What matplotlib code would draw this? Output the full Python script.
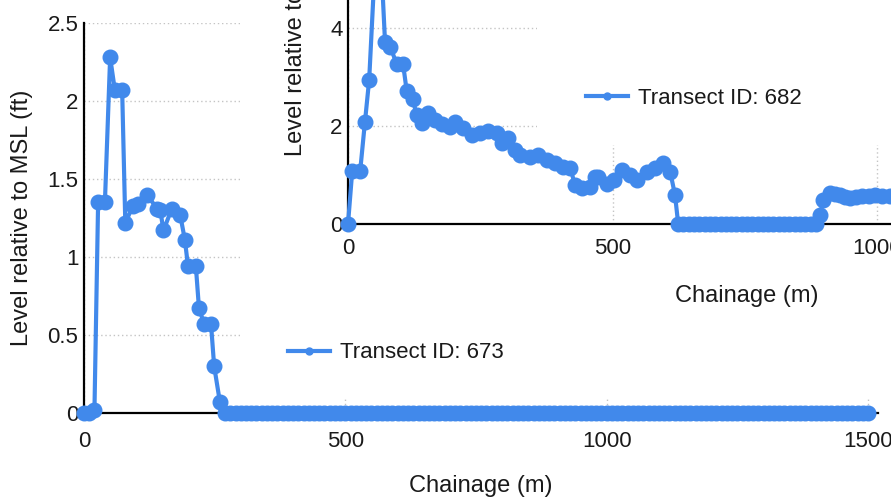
import numpy as np
import matplotlib
matplotlib.use("Agg")
import matplotlib.pyplot as plt
from matplotlib.patches import Rectangle
from matplotlib.lines import Line2D

plt.rcParams['font.family'] = ['Liberation Sans', 'DejaVu Sans']

# Transect 673 (main chart)
t673_chainage = [0, 10, 20, 27, 40, 50, 59, 73, 79, 94, 104, 120, 140, 146, 152,
                 168, 184, 193, 199, 214, 220, 230, 243, 249, 260, 270]
t673_level = [0, 0, 0.02, 1.35, 1.35, 2.28, 2.07, 2.07, 1.22, 1.33, 1.34, 1.40, 1.31, 1.30, 1.17,
              1.31, 1.27, 1.11, 0.94, 0.94, 0.67, 0.57, 0.57, 0.30, 0.07, 0.0]
# flat section at MSL to the end of the transect
t673_flat_chainage = np.arange(280, 1507, 10)
t673_flat_level = np.zeros(len(t673_flat_chainage))

# Transect 682 (overlapping window)
t682_chainage = [0, 8, 23, 32, 40, 57, 70, 80, 92, 104, 111, 122, 130, 140, 151, 164, 177,
                 193, 202, 217, 234, 249, 265, 281, 291, 303, 316, 325, 344, 359, 376, 391,
                 406, 420, 429, 442, 457, 467, 473, 490, 503, 518, 533, 546, 565, 580, 595,
                 609, 618, 624]
t682_level = [0, 1.08, 1.08, 2.08, 2.94, 6.6, 3.71, 3.61, 3.27, 3.27, 2.71, 2.55, 2.22, 2.06,
              2.27, 2.12, 2.04, 1.98, 2.08, 1.96, 1.82, 1.86, 1.90, 1.86, 1.65, 1.76, 1.51,
              1.41, 1.37, 1.41, 1.31, 1.24, 1.16, 1.14, 0.80, 0.73, 0.76, 0.96, 0.96, 0.82,
              0.90, 1.10, 1.00, 0.90, 1.06, 1.14, 1.24, 1.06, 0.59, 0]
t682_flat_chainage = np.arange(634, 886, 10)
t682_flat_level = np.zeros(len(t682_flat_chainage))
t682_tail_chainage = [892, 898, 911, 920, 930, 940, 949, 960, 972, 984, 996, 1010, 1025, 1040, 1055]
t682_tail_level = [0.18, 0.49, 0.63, 0.61, 0.59, 0.55, 0.53, 0.55, 0.57, 0.58, 0.59, 0.58, 0.57, 0.57, 0.57]

BLUE = '#4189EB'
TXT = '#1a1a1a'
GRID = '#c4c4c4'
W, H = 891, 499

fig = plt.figure(figsize=(W / 100, H / 100), dpi=100)
fig.patch.set_facecolor('white')


def px_box(left, top, right, bottom):
    return [left / W, (H - bottom) / H, (right - left) / W, (bottom - top) / H]


def style_axes(ax, ymax, yticks, xpad):
    ax.set_facecolor('none')
    for s in ['top', 'right']:
        ax.spines[s].set_visible(False)
    for s in ['left', 'bottom']:
        ax.spines[s].set_color('black')
        ax.spines[s].set_linewidth(1.6)
    ax.set_ylim(0, ymax)
    ax.set_yticks(yticks)
    ax.set_yticklabels(['%g' % v for v in yticks])
    ax.tick_params(axis='y', length=0, pad=4, labelsize=16, labelcolor=TXT)
    ax.tick_params(axis='x', length=0, pad=xpad, labelsize=16, labelcolor=TXT)
    ax.grid(True, color=GRID, linestyle=(0, (1, 2)), linewidth=1.0)
    ax.set_axisbelow(True)
    ax.set_xlabel('Chainage (m)', fontsize=17, color=TXT)
    ax.set_ylabel('Level relative to MSL (ft)', fontsize=17, color=TXT)


# main chart: Transect 673
ax = fig.add_axes(px_box(84, 23, 878, 413))
ax.set_zorder(0)
ax.plot(list(t673_chainage) + list(t673_flat_chainage),
        list(t673_level) + list(t673_flat_level),
        color=BLUE, lw=3, marker='o', ms=10.5, clip_on=False, zorder=3)
ax.set_xlim(0, 1519)
ax.set_xticks([0, 500, 1000, 1500])
style_axes(ax, 2.5, [0, 0.5, 1, 1.5, 2, 2.5], 13)
ax.yaxis.set_label_coords(-0.064, 0.5)
ax.xaxis.set_label_coords(0.5, -0.16)

# white window of the second chart covering the main one
fig.add_artist(Rectangle((240 / W, (H - 398) / H), 1 - 240 / W, 398 / H,
                         transform=fig.transFigure, facecolor='white',
                         edgecolor='none', zorder=1))

# second chart: Transect 682
ax2 = fig.add_axes(px_box(348, -168, 1146, 224))
ax2.set_zorder(2)
ax2.plot(list(t682_chainage) + list(t682_flat_chainage) + list(t682_tail_chainage),
         list(t682_level) + list(t682_flat_level) + list(t682_tail_level),
         color=BLUE, lw=3, marker='o', ms=10.5, clip_on=False, zorder=3)
ax2.set_xlim(0, 1508)
ax2.set_xticks([0, 500, 1000])
style_axes(ax2, 8, [0, 2, 4, 6, 8], 10)
ax2.yaxis.set_label_coords(-0.051, 0.5)
ax2.xaxis.set_label_coords(0.5, -0.156)

# legend area of second chart
fig.add_artist(Rectangle((537 / W, (H - 145) / H), 1 - 537 / W, 145 / H,
                         transform=fig.transFigure, facecolor='white',
                         edgecolor='none', zorder=3))

handle = Line2D([], [], color=BLUE, lw=3, marker='o', ms=5)
leg1 = fig.legend([handle], ['Transect ID: 673'], loc='center left',
                  bbox_to_anchor=(288 / W, (H - 353) / H), frameon=False,
                  fontsize=16, handlelength=1.9, handletextpad=0.45,
                  labelcolor=TXT, borderpad=0, borderaxespad=0)
leg2 = fig.legend([handle], ['Transect ID: 682'], loc='center left',
                  bbox_to_anchor=(586 / W, (H - 98) / H), frameon=False,
                  fontsize=16, handlelength=1.9, handletextpad=0.45,
                  labelcolor=TXT, borderpad=0, borderaxespad=0)
leg1.set_zorder(6)
leg2.set_zorder(6)

fig.savefig('out.png', dpi=100)
